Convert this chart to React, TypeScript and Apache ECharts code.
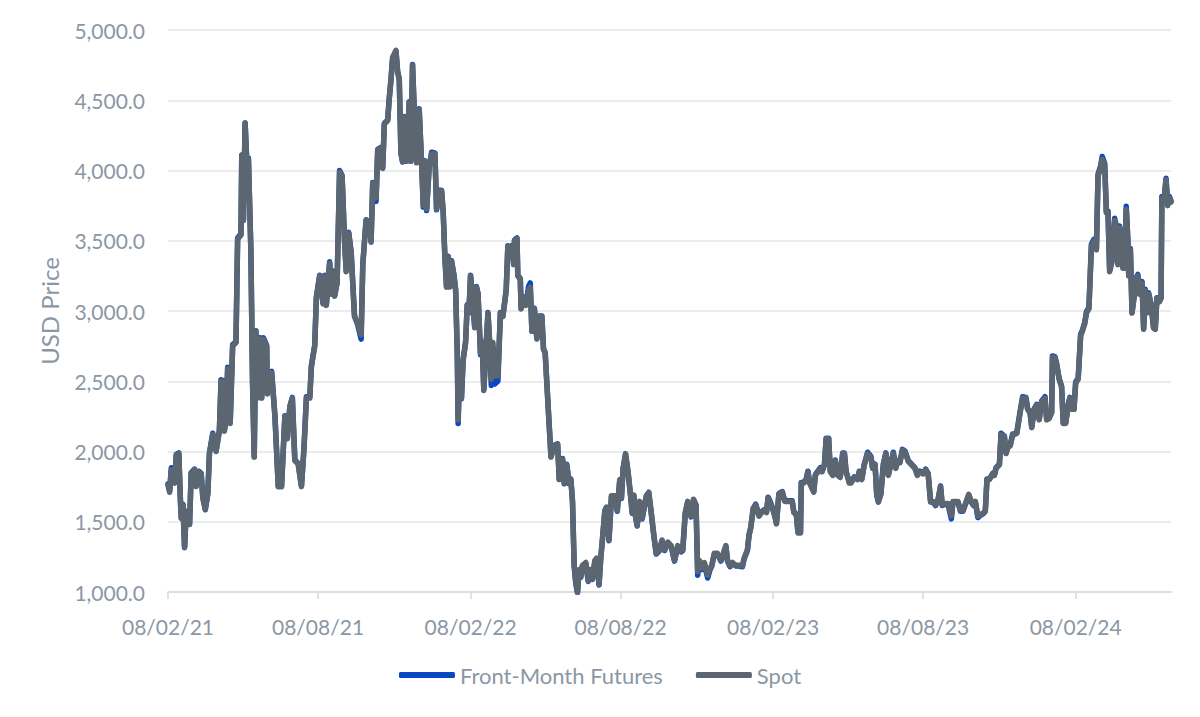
import React, { useEffect, useRef } from "react";
import * as echarts from "echarts";

const START_DATE = "2021-02-08";

// day offsets from START_DATE
const days = [
  0, 2, 4, 8, 10, 13, 15, 16, 18, 20, 22, 26, 28, 32, 34, 37, 40, 42, 45, 48,
  50, 54, 58, 62, 64, 67, 68, 70, 72, 75, 78, 82, 84, 88, 89, 91, 93, 95, 97, 100,
  102, 104, 106, 108, 111, 113, 115, 119, 120, 123, 125, 129, 133, 137, 141, 144, 147, 150, 153, 157,
  161, 164, 167, 171, 173, 177, 179, 183, 187, 189, 191, 195, 197, 199, 201, 204, 207, 210, 213, 215,
  218, 221, 223, 225, 229, 233, 235, 239, 243, 245, 247, 251, 253, 257, 259, 261, 265, 267, 269, 271,
  275, 277, 279, 281, 283, 285, 288, 291, 293, 295, 297, 300, 303, 306, 308, 310, 312, 315, 318, 322,
  324, 327, 330, 332, 334, 336, 338, 340, 342, 345, 347, 349, 350, 352, 354, 356, 359, 361, 363, 365,
  368, 370, 372, 374, 377, 379, 381, 384, 386, 388, 390, 392, 394, 398, 401, 404, 408, 410, 412, 415,
  417, 418, 421, 422, 425, 426, 429, 432, 435, 437, 439, 442, 445, 448, 451, 453, 455, 458, 460, 462,
  466, 470, 472, 476, 478, 481, 484, 486, 488, 490, 492, 494, 496, 498, 500, 504, 507, 509, 512, 515,
  517, 520, 522, 524, 527, 529, 532, 535, 539, 542, 545, 547, 549, 552, 555, 558, 560, 562, 564, 566,
  569, 572, 575, 577, 580, 583, 586, 589, 593, 596, 599, 603, 607, 611, 615, 619, 621, 624, 627, 631,
  634, 637, 639, 641, 644, 647, 651, 654, 656, 659, 663, 667, 670, 673, 675, 678, 681, 685, 689, 693,
  695, 699, 701, 703, 706, 709, 713, 716, 719, 722, 724, 726, 730, 733, 734, 737, 741, 744, 747, 751,
  753, 755, 758, 760, 763, 764, 767, 770, 772, 774, 776, 779, 781, 784, 787, 789, 792, 794, 797, 799,
  802, 805, 808, 811, 814, 816, 818, 822, 824, 828, 832, 834, 837, 840, 844, 848, 850, 853, 855, 857,
  860, 863, 866, 869, 872, 875, 878, 880, 883, 886, 889, 893, 897, 901, 904, 907, 911, 914, 917, 920,
  923, 926, 929, 932, 934, 938, 941, 945, 947, 951, 953, 956, 959, 963, 966, 969, 972, 974, 977, 980,
  984, 986, 988, 991, 995, 997, 999, 1003, 1005, 1009, 1011, 1013, 1016, 1019, 1021, 1024, 1028, 1031, 1035, 1037,
  1040, 1042, 1045, 1048, 1051, 1054, 1058, 1060, 1063, 1066, 1067, 1070, 1072, 1075, 1078, 1080, 1083, 1086, 1088, 1090,
  1093, 1095, 1098, 1101, 1103, 1106, 1108, 1111, 1114, 1117, 1120, 1122, 1125, 1127, 1130, 1132, 1134, 1136, 1139, 1142,
  1144, 1146, 1148, 1150, 1152, 1154, 1156, 1158, 1159, 1161, 1163, 1166, 1168, 1170, 1172, 1175, 1177, 1179, 1181, 1183,
  1186, 1189, 1191, 1193, 1196, 1198, 1199, 1202, 1204, 1206, 1208, 1210,
];

const spot = [
  1760, 1710, 1870, 1775, 1975, 1985, 1645, 1530, 1620, 1315, 1570, 1480, 1845, 1870, 1750, 1855, 1840, 1670, 1590, 1695,
  1985, 2120, 2000, 2145, 2500, 2500, 2145, 2225, 2590, 2200, 2750, 2775, 3510, 3540, 4105, 3645, 4340, 4065, 4080, 3420,
  2490, 1960, 2855, 2380, 2800, 2380, 2800, 2750, 2410, 2560, 2560, 2250, 1750, 1750, 2250, 2090, 2315, 2380, 1935, 1910,
  1750, 2015, 2380, 2380, 2605, 2750, 3090, 3250, 3050, 3250, 3040, 3340, 3120, 3280, 3105, 3200, 3990, 3960, 3490, 3280,
  3555, 3410, 3185, 2960, 2910, 2830, 3330, 3645, 3620, 3490, 3910, 3805, 4145, 4160, 4015, 4330, 4355, 4515, 4645, 4800,
  4855, 4700, 4645, 4120, 4065, 4380, 4065, 4485, 4065, 4750, 4435, 4055, 4435, 4040, 3750, 4065, 3725, 4015, 4120, 4120,
  3725, 3855, 3855, 3700, 3385, 3170, 3385, 3170, 3355, 3250, 3145, 2700, 2225, 2620, 2380, 2645, 2775, 3040, 2985, 3250,
  3040, 2880, 3170, 3120, 2700, 2775, 2435, 2775, 2985, 2775, 2515, 2775, 2540, 2540, 2985, 2960, 3145, 3460, 3435, 3460,
  3330, 3500, 3515, 3250, 3225, 3015, 3095, 3040, 3145, 3170, 2855, 3015, 2800, 2960, 2960, 2725, 2700, 2380, 2170, 1960,
  2040, 2050, 1800, 1945, 1775, 1905, 1775, 1800, 1645, 1190, 1065, 1000, 1160, 1110, 1190, 1210, 1080, 1160, 1095, 1225,
  1240, 1055, 1240, 1370, 1580, 1605, 1370, 1685, 1685, 1580, 1800, 1670, 1880, 1985, 1855, 1690, 1565, 1690, 1540, 1475,
  1645, 1525, 1620, 1685, 1710, 1565, 1410, 1275, 1300, 1370, 1300, 1355, 1330, 1225, 1330, 1290, 1300, 1565, 1645, 1540,
  1660, 1620, 1145, 1225, 1170, 1210, 1120, 1170, 1190, 1275, 1275, 1225, 1275, 1330, 1225, 1185, 1210, 1190, 1190, 1185,
  1240, 1300, 1410, 1460, 1590, 1620, 1540, 1565, 1580, 1565, 1670, 1645, 1580, 1515, 1485, 1695, 1710, 1645, 1645, 1645,
  1645, 1565, 1550, 1420, 1420, 1775, 1775, 1800, 1855, 1775, 1750, 1710, 1830, 1855, 1880, 1855, 1905, 2090, 2090, 1855,
  1830, 1935, 1830, 1815, 1985, 1985, 1855, 1775, 1775, 1815, 1800, 1855, 1800, 1905, 1985, 1960, 1880, 1905, 1695, 1645,
  1695, 1905, 1985, 1830, 1905, 1985, 1880, 1930, 1920, 2010, 2000, 1930, 1905, 1880, 1830, 1855, 1840, 1870, 1840, 1645,
  1645, 1620, 1660, 1750, 1620, 1630, 1630, 1540, 1645, 1645, 1645, 1580, 1580, 1645, 1695, 1645, 1620, 1645, 1540, 1550,
  1565, 1580, 1800, 1800, 1840, 1830, 1880, 1905, 2120, 2105, 1985, 2025, 2040, 2120, 2120, 2130, 2275, 2380, 2380, 2300,
  2275, 2170, 2300, 2330, 2225, 2355, 2380, 2225, 2235, 2275, 2670, 2670, 2620, 2515, 2460, 2200, 2200, 2330, 2380, 2300,
  2300, 2485, 2515, 2825, 2855, 2910, 2985, 3015, 3460, 3500, 3435, 3960, 4015, 4080, 4040, 3700, 3700, 3280, 3355, 3645,
  3595, 3330, 3595, 3490, 3305, 3305, 3725, 3490, 3250, 3435, 2985, 3120, 3225, 3250, 3120, 3200, 2870, 3145, 2985, 3120,
  3040, 2880, 2870, 3090, 3065, 3090, 3805, 3805, 3935, 3750, 3805, 3775,
];

const futures = [
  1770, 1720, 1885, 1780, 1980, 1990, 1650, 1525, 1625, 1320, 1575, 1485, 1850, 1875, 1755, 1860, 1845, 1675, 1585, 1700,
  1990, 2130, 2005, 2150, 2510, 2505, 2150, 2230, 2600, 2205, 2760, 2780, 3520, 3550, 4110, 3650, 4335, 4075, 4090, 3430,
  2495, 1965, 2860, 2385, 2810, 2385, 2810, 2755, 2415, 2565, 2570, 2255, 1755, 1755, 2255, 2095, 2320, 2385, 1940, 1915,
  1755, 2020, 2390, 2385, 2610, 2755, 3100, 3255, 3060, 3255, 3045, 3350, 3125, 3285, 3110, 3205, 4000, 3965, 3495, 3285,
  3560, 3415, 3190, 2965, 2900, 2800, 3335, 3650, 3625, 3495, 3915, 3780, 4150, 4165, 4020, 4335, 4360, 4520, 4650, 4805,
  4850, 4705, 4650, 4125, 4060, 4385, 4070, 4490, 4070, 4755, 4440, 4060, 4440, 4045, 3740, 4070, 3715, 4020, 4130, 4125,
  3720, 3860, 3860, 3705, 3390, 3175, 3390, 3175, 3360, 3255, 3150, 2690, 2200, 2625, 2375, 2650, 2780, 3045, 2990, 3255,
  3045, 2885, 3175, 3125, 2690, 2780, 2440, 2780, 2990, 2780, 2470, 2740, 2480, 2500, 2990, 2965, 3150, 3465, 3440, 3465,
  3335, 3505, 3520, 3255, 3230, 3020, 3100, 3045, 3175, 3200, 2860, 3020, 2805, 2965, 2965, 2730, 2705, 2385, 2175, 1965,
  2045, 2055, 1805, 1950, 1770, 1910, 1770, 1805, 1640, 1185, 1060, 995, 1155, 1105, 1185, 1205, 1075, 1155, 1090, 1220,
  1235, 1050, 1235, 1365, 1575, 1600, 1365, 1680, 1680, 1575, 1795, 1665, 1875, 1980, 1850, 1685, 1560, 1685, 1535, 1470,
  1640, 1520, 1615, 1680, 1705, 1560, 1405, 1270, 1295, 1365, 1295, 1350, 1325, 1220, 1325, 1285, 1295, 1560, 1640, 1535,
  1655, 1615, 1120, 1215, 1160, 1200, 1100, 1160, 1185, 1270, 1270, 1220, 1270, 1325, 1220, 1180, 1205, 1185, 1185, 1180,
  1235, 1295, 1405, 1455, 1595, 1625, 1545, 1570, 1585, 1570, 1675, 1650, 1585, 1520, 1490, 1700, 1715, 1650, 1650, 1650,
  1650, 1570, 1555, 1425, 1425, 1780, 1780, 1805, 1860, 1780, 1755, 1715, 1835, 1860, 1885, 1860, 1910, 2095, 2095, 1860,
  1835, 1940, 1835, 1820, 1990, 1990, 1860, 1780, 1780, 1820, 1805, 1860, 1805, 1910, 1995, 1965, 1885, 1910, 1690, 1640,
  1700, 1910, 1990, 1835, 1910, 1995, 1885, 1935, 1925, 2015, 2005, 1935, 1910, 1885, 1835, 1860, 1845, 1875, 1845, 1640,
  1640, 1615, 1655, 1755, 1615, 1625, 1625, 1520, 1640, 1640, 1640, 1575, 1575, 1640, 1690, 1640, 1615, 1640, 1530, 1545,
  1560, 1575, 1805, 1805, 1845, 1835, 1885, 1910, 2130, 2110, 1990, 2030, 2045, 2125, 2125, 2135, 2285, 2390, 2385, 2305,
  2280, 2175, 2305, 2335, 2230, 2360, 2390, 2230, 2240, 2280, 2680, 2675, 2625, 2520, 2465, 2205, 2205, 2335, 2385, 2305,
  2305, 2495, 2520, 2835, 2860, 2920, 2995, 3025, 3475, 3510, 3445, 3975, 4030, 4100, 4050, 3710, 3710, 3290, 3365, 3660,
  3605, 3340, 3605, 3500, 3315, 3315, 3745, 3500, 3260, 3445, 2990, 3130, 3235, 3260, 3130, 3210, 2875, 3155, 2990, 3130,
  3045, 2880, 2870, 3095, 3070, 3095, 3815, 3815, 3945, 3760, 3815, 3785,
];

const tickDates = [
  "2021-02-08", "2021-08-08", "2022-02-08", "2022-08-08", "2023-02-08", "2023-08-08", "2024-02-08",
];
const tickLabels = [
  "08/02/21", "08/08/21", "08/02/22", "08/08/22", "08/02/23", "08/08/23", "08/02/24",
];

const seriesNames = ["Front-Month Futures", "Spot"];
const seriesColors = ["#0a47c2", "#5b6670"];

const DAY_MS = 86400000;
const FONT = "Lato";
const TEXT_COLOR = "#8b97a4";

export default function App() {
  const ref = useRef<HTMLDivElement>(null);

  useEffect(() => {
    if (!ref.current) return;
    const chart = echarts.init(ref.current, null, { renderer: "svg" });
    const start = Date.parse(START_DATE + "T00:00:00Z");
    const toTs = (d: number) => start + d * DAY_MS;
    const tickTs = tickDates.map((d) => Date.parse(d + "T00:00:00Z"));

    const spotData = days.map((d, i) => [toTs(d), spot[i]]);
    const futData = days.map((d, i) => [toTs(d), futures[i]]);

    chart.setOption({
      animation: false,
      backgroundColor: "#ffffff",
      textStyle: { fontFamily: FONT },
      grid: {
        left: 168,
        right: 29,
        top: 30,
        bottom: 125,
        containLabel: false,
        outerBoundsMode: "none",
      },
      legend: {
        data: seriesNames,
        bottom: 31,
        left: "center",
        padding: 0,
        icon: "roundRect",
        itemWidth: 56,
        itemHeight: 6,
        itemGap: 33,
        textStyle: { color: TEXT_COLOR, fontSize: 22, fontFamily: FONT },
      },
      xAxis: {
        type: "value",
        min: toTs(days[0]),
        max: toTs(days[days.length - 1]),
        splitLine: { show: false },
        axisLine: { show: true, lineStyle: { color: "#d9d9d9", width: 1.5 } },
        axisTick: {
          show: true,
          customValues: tickTs,
          length: 7,
          lineStyle: { color: "#d9d9d9", width: 1.5 },
        },
        axisLabel: {
          customValues: tickTs,
          color: TEXT_COLOR,
          fontSize: 21,
          fontFamily: FONT,
          margin: 24,
          showMinLabel: true,
          formatter: (val: number) => {
            for (let i = 0; i < tickTs.length; i++) {
              if (Math.abs(tickTs[i] - val) < DAY_MS / 2) return tickLabels[i];
            }
            return "";
          },
        },
      },
      yAxis: {
        type: "value",
        min: 1000,
        max: 5000,
        interval: 500,
        name: "USD Price",
        nameLocation: "middle",
        nameGap: 107,
        nameTextStyle: { color: TEXT_COLOR, fontSize: 24, fontFamily: FONT },
        axisLine: { show: false },
        axisTick: { show: false },
        axisLabel: {
          color: TEXT_COLOR,
          fontSize: 21,
          fontFamily: FONT,
          margin: 23,
          formatter: (v: number) =>
            v.toLocaleString("en-US", { minimumFractionDigits: 1, maximumFractionDigits: 1 }),
        },
        splitLine: { show: true, lineStyle: { color: "#e6e6e6", width: 1.5 } },
      },
      series: [
        {
          name: seriesNames[0],
          type: "line",
          data: futData,
          showSymbol: false,
          symbol: "none",
          color: seriesColors[0],
          lineStyle: { color: seriesColors[0], width: 5.5, join: "round", cap: "round" },
          z: 2,
        },
        {
          name: seriesNames[1],
          type: "line",
          data: spotData,
          showSymbol: false,
          symbol: "none",
          color: seriesColors[1],
          lineStyle: { color: seriesColors[1], width: 5.5, join: "round", cap: "round" },
          z: 3,
        },
      ],
    });

    return () => chart.dispose();
  }, []);

  return (
    <div
      ref={ref}
      style={{ position: "fixed", left: 0, top: 0, width: 1200, height: 717, background: "#fff" }}
    />
  );
}
